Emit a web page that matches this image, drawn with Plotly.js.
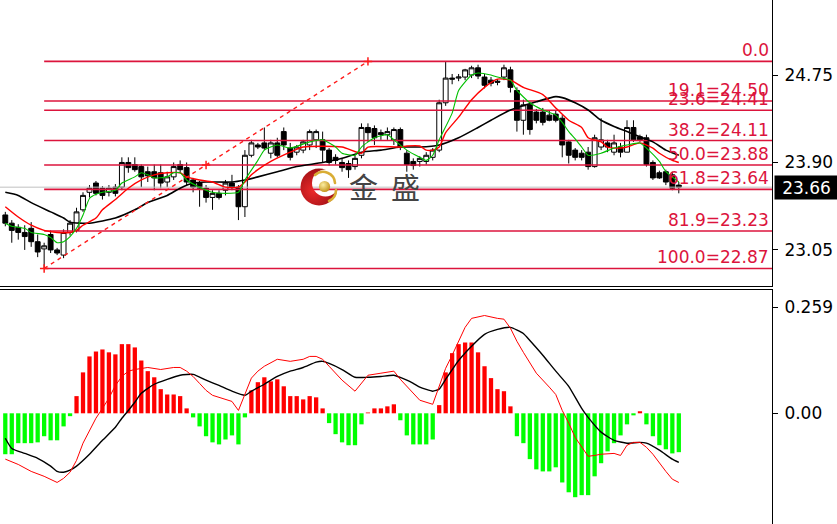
<!DOCTYPE html>
<html>
<head>
<meta charset="utf-8">
<script src="https://cdn.plot.ly/plotly-3.0.1.min.js"></script>
<style>
  html, body { margin: 0; padding: 0; background: #fff; }
  #chart { width: 837px; height: 524px; }
</style>
</head>
<body>
<div id="chart"></div>
<script>
// ---- price bars (one per period) ----
const openPx = [
  23.39, 23.31, 23.27, 23.22, 23.26, 23.13, 23.06, 23.20, 23.05, 23.00,
  23.22, 23.24, 23.44, 23.61, 23.70, 23.65, 23.61, 23.66, 23.66, 23.90,
  23.88, 23.86, 23.81, 23.81, 23.80, 23.71, 23.76, 23.88, 23.85, 23.73,
  23.70, 23.65, 23.56, 23.60, 23.63, 23.70, 23.66, 23.47, 23.97, 24.07,
  24.09, 23.99, 24.09, 24.20, 24.04, 24.00, 24.02, 24.07, 24.12, 24.12,
  24.02, 23.95, 23.90, 23.89, 23.86, 23.97, 24.24, 24.23, 24.19, 24.17,
  24.12, 24.22, 23.99, 23.91, 23.91, 23.91, 23.95, 24.02, 24.48, 24.72,
  24.72, 24.73, 24.75, 24.82, 24.73, 24.70, 24.69, 24.73, 24.80, 24.60,
  24.31, 24.46, 24.39, 24.39, 24.36, 24.37, 24.33, 24.10, 24.02, 23.99,
  24.00, 23.86, 24.05, 24.09, 24.00, 24.05, 24.00, 24.24, 24.15, 24.14,
  23.90, 23.80, 23.81, 23.78, 23.68
];
const highPx = [
  23.42, 23.34, 23.30, 23.29, 23.32, 23.20, 23.12, 23.24, 23.07, 23.25,
  23.34, 23.46, 23.61, 23.68, 23.72, 23.67, 23.68, 23.69, 23.95, 23.95,
  23.95, 23.88, 23.86, 23.88, 23.88, 23.81, 23.90, 23.92, 23.90, 23.75,
  23.72, 23.68, 23.63, 23.63, 23.73, 23.78, 23.68, 24.02, 24.12, 24.09,
  24.24, 24.12, 24.14, 24.24, 24.09, 24.07, 24.12, 24.22, 24.22, 24.20,
  24.04, 23.98, 23.94, 23.92, 23.97, 24.28, 24.28, 24.26, 24.22, 24.24,
  24.24, 24.24, 24.02, 23.94, 23.96, 24.00, 24.04, 24.51, 24.88, 24.76,
  24.76, 24.81, 24.84, 24.85, 24.76, 24.73, 24.71, 24.85, 24.83, 24.63,
  24.51, 24.49, 24.42, 24.43, 24.40, 24.41, 24.36, 24.12, 24.04, 24.02,
  24.05, 24.17, 24.33, 24.12, 24.17, 24.09, 24.31, 24.31, 24.17, 24.17,
  23.92, 23.82, 23.83, 23.81, 23.71
];
const lowPx = [
  23.28, 23.12, 23.15, 23.05, 23.08, 22.98, 22.87, 23.02, 23.00, 22.97,
  23.19, 23.22, 23.42, 23.56, 23.58, 23.54, 23.57, 23.57, 23.63, 23.80,
  23.81, 23.66, 23.71, 23.63, 23.65, 23.66, 23.73, 23.80, 23.68, 23.61,
  23.47, 23.51, 23.44, 23.54, 23.58, 23.63, 23.34, 23.37, 23.95, 24.03,
  24.02, 23.94, 23.95, 24.02, 23.92, 23.97, 23.99, 24.02, 24.04, 23.90,
  23.87, 23.88, 23.81, 23.75, 23.83, 23.94, 24.10, 24.07, 24.12, 24.12,
  24.07, 24.02, 23.81, 23.83, 23.86, 23.88, 23.92, 24.00, 24.45, 24.66,
  24.69, 24.70, 24.72, 24.71, 24.62, 24.64, 24.65, 24.70, 24.58, 24.20,
  24.17, 24.17, 24.28, 24.26, 24.30, 24.29, 23.95, 23.89, 23.92, 23.92,
  23.83, 23.85, 24.02, 24.00, 23.97, 23.95, 24.00, 24.10, 24.10, 23.86,
  23.73, 23.74, 23.68, 23.63, 23.60
];
const closePx = [
  23.31, 23.24, 23.22, 23.18, 23.13, 23.03, 23.09, 23.05, 23.02, 23.22,
  23.31, 23.42, 23.58, 23.65, 23.60, 23.58, 23.65, 23.60, 23.90, 23.85,
  23.83, 23.76, 23.77, 23.75, 23.70, 23.76, 23.86, 23.83, 23.71, 23.66,
  23.65, 23.56, 23.60, 23.56, 23.70, 23.66, 23.47, 23.97, 24.09, 24.05,
  24.04, 24.09, 23.97, 24.07, 23.95, 24.05, 24.10, 24.20, 24.20, 24.02,
  23.90, 23.92, 23.85, 23.83, 23.94, 24.24, 24.19, 24.14, 24.17, 24.20,
  24.22, 24.05, 23.88, 23.87, 23.94, 23.97, 24.02, 24.48, 24.72, 24.71,
  24.73, 24.80, 24.82, 24.74, 24.65, 24.67, 24.68, 24.82, 24.63, 24.31,
  24.46, 24.22, 24.31, 24.29, 24.31, 24.31, 24.07, 23.97, 23.95, 23.95,
  23.86, 24.14, 24.12, 24.05, 24.09, 24.00, 24.24, 24.12, 24.12, 23.88,
  23.75, 23.75, 23.71, 23.65, 23.66
];

// ---- moving averages on the price panel (bar index, value) ----
const maFastIdx = [0,1,3,4,6,7,8,9,10,11,12,13,14,15,17,18,20,21,22,23,25,26,27,28,30,32,34,36,37,39,40,42,44,47,49,51,52,54,55,57,59,60,62,64,65,66,67,69,70,72,73,75,76,78,79,81,83,85,86,87,88,89,90,92,94,96,98,99,101,102,104];
const maFastVal = [23.31,23.28,23.26,23.22,23.20,23.17,23.12,23.13,23.18,23.26,23.39,23.55,23.59,23.61,23.63,23.70,23.76,23.80,23.78,23.75,23.76,23.80,23.80,23.73,23.66,23.61,23.60,23.61,23.73,23.92,24.02,24.07,24.04,24.10,24.12,24.05,23.99,23.97,24.05,24.14,24.17,24.12,24.02,23.95,23.92,23.97,24.12,24.38,24.60,24.75,24.77,24.75,24.73,24.70,24.60,24.48,24.41,24.36,24.29,24.20,24.13,24.05,23.97,23.99,24.04,24.07,24.09,24.04,23.91,23.81,23.71];

const maMidIdx = [0,2,4,6,8,10,11,12,14,15,17,19,21,23,25,27,28,30,32,34,36,37,38,39,41,44,46,52,55,56,61,62,64,65,66,67,68,70,72,74,76,78,80,83,85,87,89,90,92,93,95,96,98,100,101,103,104];
const maMidVal = [23.47,23.37,23.29,23.24,23.22,23.22,23.24,23.29,23.36,23.44,23.54,23.65,23.73,23.78,23.80,23.80,23.76,23.73,23.71,23.66,23.66,23.71,23.78,23.83,23.91,24.00,24.05,24.05,23.99,24.05,24.05,24.06,24.06,24.02,24.02,24.05,24.19,24.34,24.51,24.63,24.71,24.70,24.63,24.56,24.43,24.31,24.24,24.14,24.10,24.05,24.04,24.05,24.09,24.04,23.99,23.92,23.90];

const maSlowIdx = [0,2,4,7,9,10,13,17,20,22,25,27,29,31,35,37,39,42,45,49,52,55,58,61,64,67,70,73,75,78,82,85,86,88,90,92,94,96,98,100,102,104];
const maSlowVal = [23.61,23.58,23.51,23.42,23.36,23.32,23.31,23.36,23.44,23.51,23.58,23.65,23.70,23.71,23.71,23.73,23.76,23.81,23.86,23.90,23.94,24.00,24.02,24.05,24.05,24.07,24.14,24.24,24.31,24.41,24.49,24.54,24.53,24.48,24.41,24.31,24.25,24.20,24.15,24.10,24.02,23.97];

// ---- Fibonacci retracement ----
const fibAnchorIdx = [6, 56];
const fibAnchorPrice = [22.870, 24.882];
const fibLevels = [0.0, 19.1, 23.6, 38.2, 50.0, 61.8, 81.9, 100.0];

// ---- MACD panel ----
const macdHist = [
  -0.100,-0.100,-0.073,-0.073,-0.073,-0.071,-0.056,-0.066,-0.066,-0.032,
  -0.007, 0.042, 0.100, 0.139, 0.151, 0.156, 0.149, 0.144, 0.169, 0.169,
   0.161, 0.129, 0.103, 0.088, 0.059, 0.046, 0.046, 0.042, 0.012,-0.010,
  -0.032,-0.056,-0.071,-0.076,-0.064,-0.054,-0.076,-0.010, 0.056, 0.076,
   0.088, 0.078, 0.083, 0.066, 0.042, 0.042, 0.034, 0.042, 0.039, 0.012,
  -0.024,-0.051,-0.071,-0.078,-0.078,-0.027, 0.002, 0.012, 0.012, 0.017,
   0.022,-0.017,-0.054,-0.076,-0.076,-0.076,-0.064, 0.020, 0.100, 0.147,
   0.169, 0.173, 0.173, 0.149, 0.115, 0.086, 0.059, 0.054, 0.017,-0.056,
  -0.073,-0.112,-0.137,-0.142,-0.142,-0.132,-0.169,-0.193,-0.205,-0.200,
  -0.200,-0.154,-0.122,-0.093,-0.073,-0.054,-0.027,-0.005, 0.005,-0.027,
  -0.056,-0.078,-0.088,-0.098,-0.095
];
const macdLineIdx = [0,2,4,6,8,9,10,11,12,13,14,15,16,17,18,19,20,22,24,26,27,28,29,30,31,32,34,35,36,37,38,39,40,42,44,46,47,48,49,50,52,54,55,56,58,60,61,62,64,66,67,68,69,70,71,72,74,76,77,78,79,80,81,82,84,85,86,87,88,89,90,91,92,94,95,96,97,98,99,100,101,102,103,104];
const macdLineVal = [-0.112,-0.125,-0.142,-0.154,-0.169,-0.159,-0.144,-0.115,-0.073,-0.042,-0.012,0.012,0.037,0.068,0.090,0.103,0.107,0.112,0.107,0.112,0.112,0.103,0.090,0.073,0.056,0.044,0.034,0.029,0.007,0.049,0.086,0.103,0.115,0.132,0.127,0.132,0.139,0.139,0.132,0.115,0.081,0.054,0.073,0.093,0.098,0.103,0.083,0.066,0.032,0.022,0.064,0.110,0.142,0.178,0.210,0.232,0.239,0.232,0.230,0.208,0.176,0.149,0.122,0.098,0.064,0.046,0.007,-0.024,-0.059,-0.081,-0.105,-0.103,-0.100,-0.098,-0.103,-0.078,-0.071,-0.071,-0.083,-0.100,-0.122,-0.142,-0.161,-0.169];
const signalIdx = [0,1,3,5,7,8,9,10,11,13,15,17,18,19,20,21,23,25,27,29,31,33,35,37,38,40,42,44,46,48,49,50,52,54,56,58,60,62,63,64,66,67,68,70,72,74,76,78,80,81,83,85,87,89,90,92,94,96,98,99,101,103,104];
const signalVal = [-0.061,-0.086,-0.098,-0.110,-0.129,-0.142,-0.144,-0.139,-0.129,-0.100,-0.066,-0.034,-0.012,0.007,0.027,0.049,0.071,0.083,0.093,0.095,0.081,0.068,0.054,0.044,0.054,0.071,0.090,0.103,0.112,0.125,0.127,0.122,0.107,0.088,0.088,0.090,0.093,0.081,0.073,0.064,0.054,0.059,0.083,0.129,0.164,0.193,0.205,0.210,0.195,0.178,0.142,0.103,0.066,0.012,-0.010,-0.046,-0.066,-0.073,-0.071,-0.073,-0.090,-0.112,-0.120];

// ---- axis labels ----
const priceTicks = [23.05, 23.90, 24.75];
const macdTicks = [0, 0.259];
const macdTickText = ['0.00', '0.259'];

// ---- frame geometry (pixels of an 837x524 canvas) ----
const W = 837, H = 524, PLOT_R = 772;
const PRICE_BOTTOM = 286, MACD_TOP = 290;
const barIdx = openPx.map((_, i) => i);
const xRange = [-0.818, 118.39];
const priceRange = [22.6995, 25.4789];
const macdRange = [-0.2705, 0.3013];
const FIB_RED = '#dc143c';
const HANDLE_RED = '#ff1a1a';
const labelFont = 'DejaVu Sans, Verdana, sans-serif';

const fibHigh = fibAnchorPrice[1], fibLow = fibAnchorPrice[0];
const fibPrices = fibLevels.map(l => fibHigh - (fibHigh - fibLow) * l / 100);
const lastClose = closePx[closePx.length - 1];

const traces = [];

// candles
traces.push({
  type: 'candlestick', x: barIdx, open: openPx, high: highPx, low: lowPx, close: closePx,
  xaxis: 'x', yaxis: 'y', whiskerwidth: 0, hoverinfo: 'skip',
  increasing: { line: { color: '#000000', width: 1 }, fillcolor: '#ffffff' },
  decreasing: { line: { color: '#000000', width: 1 }, fillcolor: '#000000' }
});

// bid line
traces.push({
  type: 'scatter', mode: 'lines', x: [xRange[0], xRange[1]], y: [lastClose, lastClose],
  xaxis: 'x', yaxis: 'y', line: { color: '#c0c0c0', width: 1 }, hoverinfo: 'skip'
});

// fibonacci levels
fibPrices.forEach(p => {
  traces.push({
    type: 'scatter', mode: 'lines', x: [fibAnchorIdx[0], xRange[1]], y: [p, p],
    xaxis: 'x', yaxis: 'y', line: { color: FIB_RED, width: 1.6 }, hoverinfo: 'skip'
  });
});

// moving averages
traces.push({ type: 'scatter', mode: 'lines', x: maSlowIdx, y: maSlowVal, xaxis: 'x', yaxis: 'y',
  line: { color: '#000000', width: 1.6, shape: 'spline', smoothing: 0.6 }, hoverinfo: 'skip' });
traces.push({ type: 'scatter', mode: 'lines', x: maMidIdx, y: maMidVal, xaxis: 'x', yaxis: 'y',
  line: { color: '#ff0000', width: 1.4, shape: 'spline', smoothing: 0.6 }, hoverinfo: 'skip' });
traces.push({ type: 'scatter', mode: 'lines', x: maFastIdx, y: maFastVal, xaxis: 'x', yaxis: 'y',
  line: { color: '#00c000', width: 1.1, shape: 'spline', smoothing: 0.5 }, hoverinfo: 'skip' });

// fibonacci trend line with its handles
const fibMidIdx = (fibAnchorIdx[0] + fibAnchorIdx[1]) / 2;
const fibMidPrice = (fibAnchorPrice[0] + fibAnchorPrice[1]) / 2;
traces.push({
  type: 'scatter', mode: 'lines', x: fibAnchorIdx, y: fibAnchorPrice, xaxis: 'x', yaxis: 'y',
  line: { color: HANDLE_RED, width: 1.4, dash: '4px,4px' }, hoverinfo: 'skip'
});
traces.push({
  type: 'scatter', mode: 'markers',
  x: [fibAnchorIdx[0], fibMidIdx, fibAnchorIdx[1]], y: [fibAnchorPrice[0], fibMidPrice, fibAnchorPrice[1]],
  xaxis: 'x', yaxis: 'y', hoverinfo: 'skip',
  marker: { symbol: 'cross-thin-open', size: 6, color: HANDLE_RED, line: { color: HANDLE_RED, width: 1.5 } }
});

// MACD histogram and lines
traces.push({
  type: 'bar', x: barIdx, y: macdHist, xaxis: 'x2', yaxis: 'y2', width: 0.66,
  marker: { color: macdHist.map(v => v >= 0 ? '#ff0000' : '#00ff00'), line: { width: 0 } },
  hoverinfo: 'skip'
});
traces.push({ type: 'scatter', mode: 'lines', x: signalIdx, y: signalVal, xaxis: 'x2', yaxis: 'y2',
  line: { color: '#000000', width: 1.4, shape: 'spline', smoothing: 0.5 }, hoverinfo: 'skip' });
traces.push({ type: 'scatter', mode: 'lines', x: macdLineIdx, y: macdLineVal, xaxis: 'x2', yaxis: 'y2',
  line: { color: '#ff0000', width: 1 }, hoverinfo: 'skip' });

// annotations: level labels, current price box, watermark text
const annotations = fibLevels.map((l, k) => ({
  xref: 'paper', yref: 'y', x: 770 / PLOT_R, y: fibPrices[k], xanchor: 'right', yanchor: 'bottom',
  text: k === 0 ? l.toFixed(1) : l.toFixed(1) + '=' + fibPrices[k].toFixed(2),
  showarrow: false, borderpad: 0, font: { family: labelFont, size: 17, color: FIB_RED }
}));
annotations.push({
  xref: 'paper', yref: 'y', x: 774 / PLOT_R, y: lastClose, xanchor: 'left', yanchor: 'middle',
  text: lastClose.toFixed(2), showarrow: false, bgcolor: '#000000', borderpad: 2,
  width: 59, height: 19, align: 'center',
  font: { family: labelFont, size: 17, color: '#ffffff' }
});
[['金', 363], ['盛', 405]].forEach(([ch, cx]) => {
  annotations.push({
    xref: 'paper', yref: 'paper', x: cx / PLOT_R, y: 1 - 186 / H, xanchor: 'center', yanchor: 'middle',
    text: ch, showarrow: false,
    font: { family: 'Noto Sans CJK SC, sans-serif', size: 29, color: '#444444' }
  });
});

// watermark emblem
const emblem = "<svg xmlns='http://www.w3.org/2000/svg' width='80' height='80' viewBox='0 0 40 40'>" +
  "<defs>" +
  "<radialGradient id='r' cx='0.35' cy='0.6' r='0.75'><stop offset='0' stop-color='#ec2a2a'/><stop offset='1' stop-color='#8e0a10'/></radialGradient>" +
  "<radialGradient id='g' cx='0.38' cy='0.35' r='0.7'><stop offset='0' stop-color='#fbeea0'/><stop offset='1' stop-color='#c08e12'/></radialGradient>" +
  "<mask id='m'><rect width='40' height='40' fill='white'/><circle cx='25.5' cy='17' r='13.5' fill='black'/></mask>" +
  "</defs>" +
  "<circle cx='19' cy='21' r='18.5' fill='url(#r)' mask='url(#m)'/>" +
  "<path d='M15 9 A12 12 0 0 1 35 17' stroke='#d9ad35' stroke-width='2.6' fill='none' stroke-linecap='round'/>" +
  "<path d='M36 24 A12 12 0 0 1 29 35' stroke='#d9ad35' stroke-width='2.6' fill='none' stroke-linecap='round'/>" +
  "<circle cx='24.5' cy='20.5' r='5.6' fill='url(#g)'/>" +
  "</svg>";

const priceDomain = [1 - PRICE_BOTTOM / H, 1];
const macdDomain = [0, 1 - MACD_TOP / H];

const baseX = {
  range: xRange, showgrid: false, zeroline: false, showticklabels: false, ticks: '',
  showline: true, linecolor: '#000000', linewidth: 1, fixedrange: true
};
const baseY = {
  side: 'right', showgrid: false, zeroline: false, ticks: 'outside', ticklen: 5,
  tickcolor: '#000000', tickwidth: 1, showline: true, linecolor: '#000000', linewidth: 1,
  tickfont: { family: labelFont, size: 17, color: '#000000' }, ticklabelstandoff: 3, fixedrange: true
};

const layout = {
  width: W, height: H,
  margin: { l: 0, r: W - PLOT_R, t: 0, b: 0, pad: 0 },
  paper_bgcolor: '#ffffff', plot_bgcolor: '#ffffff',
  showlegend: false, dragmode: false, boxgap: 0.25, boxgroupgap: 0,
  xaxis: Object.assign({}, baseX, { anchor: 'y', domain: [0, 1], rangeslider: { visible: false } }),
  xaxis2: Object.assign({}, baseX, { anchor: 'y2', domain: [0, 1], side: 'top' }),
  yaxis: Object.assign({}, baseY, {
    anchor: 'x', domain: priceDomain, range: priceRange,
    tickvals: priceTicks, ticktext: priceTicks.map(v => v.toFixed(2))
  }),
  yaxis2: Object.assign({}, baseY, {
    anchor: 'x2', domain: macdDomain, range: macdRange,
    tickvals: macdTicks, ticktext: macdTickText
  }),
  annotations: annotations,
  images: [{
    source: 'data:image/svg+xml;charset=utf-8,' + encodeURIComponent(emblem),
    xref: 'paper', yref: 'paper', x: 300 / PLOT_R, y: 1 - 166 / H,
    sizex: 40 / PLOT_R, sizey: 40 / H, xanchor: 'left', yanchor: 'top',
    sizing: 'stretch', layer: 'above'
  }]
};

Plotly.newPlot('chart', traces, layout, { staticPlot: true, displayModeBar: false });
</script>
</body>
</html>
